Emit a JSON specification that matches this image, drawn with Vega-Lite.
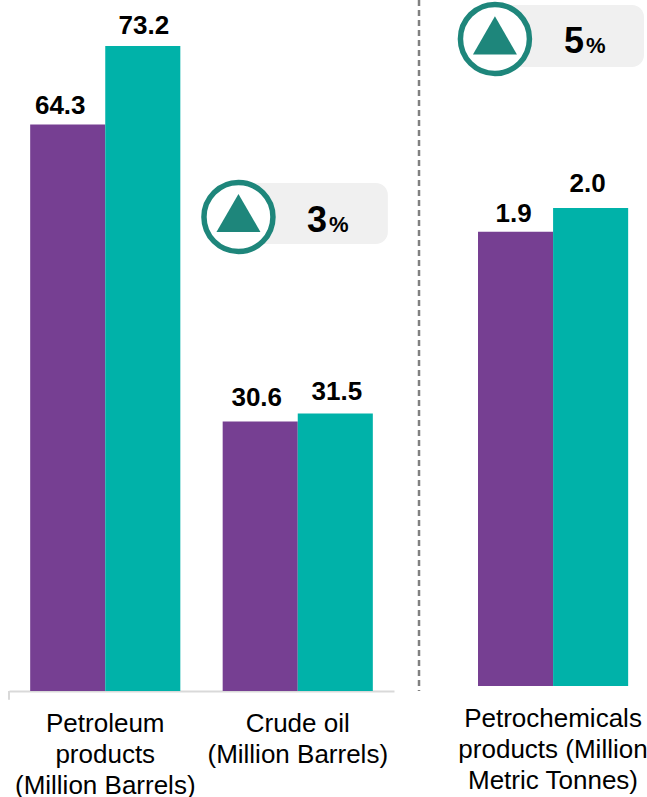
{
"$schema":"https://vega.github.io/schema/vega-lite/v6.json",
"padding":{"left":8,"top":-7,"right":0,"bottom":0},
"autosize":{"type":"pad"},
"background":"white",
"spacing":22,
"config":{"view":{"stroke":null},"text":{"font":"Liberation Sans"},"axis":{"labelFont":"Liberation Sans"}},
"datasets":{
"left":[
{"category":"Petroleum products (Million Barrels)","series":"Earlier period","value":64.3},
{"category":"Petroleum products (Million Barrels)","series":"Later period","value":73.2},
{"category":"Crude oil (Million Barrels)","series":"Earlier period","value":30.6},
{"category":"Crude oil (Million Barrels)","series":"Later period","value":31.5}],
"right":[
{"category":"Petrochemicals products (Million Metric Tonnes)","series":"Earlier period","value":1.9},
{"category":"Petrochemicals products (Million Metric Tonnes)","series":"Later period","value":2.0}]
},
"hconcat":[
{"width":385,"height":691,
"resolve":{"scale":{"x":"independent"}},
"layer":[
{"data":{"name":"left"},"mark":{"type":"bar"},
"encoding":{
"x":{"field":"category","type":"nominal","sort":null,"scale":{"paddingInner":0.22,"paddingOuter":0.11},"title":null,
"axis":{"labelAngle":0,"labelFontSize":26,"labelColor":"#000000","labelLineHeight":31,"labelPadding":19,"labelLimit":400,"labelOverlap":false,"ticks":false,"domainColor":"#d9d9d9","domainWidth":2,"labelBaseline":"top",
"labelExpr":"datum.label == 'Crude oil (Million Barrels)' ? ['Crude oil','(Million Barrels)'] : ['Petroleum','products','(Million Barrels)']"}},
"xOffset":{"field":"series","type":"nominal","scale":{"padding":0}},
"y":{"field":"value","type":"quantitative","scale":{"domain":[0,78.43],"nice":false},"axis":null},
"color":{"field":"series","type":"nominal","scale":{"domain":["Earlier period","Later period"],"range":["#763F92","#00B2A9"]},"legend":null}}},
{"data":{"name":"left"},"transform":[{"filter":"datum.value == 64.3"}],"mark":{"type":"text","fontSize":26,"fontWeight":"bold","color":"#000000","baseline":"alphabetic","dy":-10.5,"dx":-7.5},
"encoding":{"x":{"field":"category","type":"nominal","scale":{"domain":["Petroleum products (Million Barrels)","Crude oil (Million Barrels)"],"paddingInner":0.22,"paddingOuter":0.11},"axis":null},
"xOffset":{"field":"series","type":"nominal","scale":{"domain":["Earlier period","Later period"],"padding":0}},
"y":{"field":"value","type":"quantitative"},"text":{"field":"value","type":"quantitative","format":".1f"}}},
{"data":{"name":"left"},"transform":[{"filter":"datum.value == 30.6"}],"mark":{"type":"text","fontSize":26,"fontWeight":"bold","color":"#000000","baseline":"alphabetic","dy":-15,"dx":-3.5},
"encoding":{"x":{"field":"category","type":"nominal","scale":{"domain":["Petroleum products (Million Barrels)","Crude oil (Million Barrels)"],"paddingInner":0.22,"paddingOuter":0.11},"axis":null},
"xOffset":{"field":"series","type":"nominal","scale":{"domain":["Earlier period","Later period"],"padding":0}},
"y":{"field":"value","type":"quantitative"},"text":{"field":"value","type":"quantitative","format":".1f"}}},
{"data":{"name":"left"},"transform":[{"filter":"datum.value == 73.2"}],"mark":{"type":"text","fontSize":26,"fontWeight":"bold","color":"#000000","baseline":"alphabetic","dy":-12,"dx":1},
"encoding":{"x":{"field":"category","type":"nominal","scale":{"domain":["Petroleum products (Million Barrels)","Crude oil (Million Barrels)"],"paddingInner":0.22,"paddingOuter":0.11},"axis":null},
"xOffset":{"field":"series","type":"nominal","scale":{"domain":["Earlier period","Later period"],"padding":0}},
"y":{"field":"value","type":"quantitative"},"text":{"field":"value","type":"quantitative","format":".1f"}}},
{"data":{"name":"left"},"transform":[{"filter":"datum.value == 31.5"}],"mark":{"type":"text","fontSize":26,"fontWeight":"bold","color":"#000000","baseline":"alphabetic","dy":-13,"dx":1.5},
"encoding":{"x":{"field":"category","type":"nominal","scale":{"domain":["Petroleum products (Million Barrels)","Crude oil (Million Barrels)"],"paddingInner":0.22,"paddingOuter":0.11},"axis":null},
"xOffset":{"field":"series","type":"nominal","scale":{"domain":["Earlier period","Later period"],"padding":0}},
"y":{"field":"value","type":"quantitative"},"text":{"field":"value","type":"quantitative","format":".1f"}}},
{"data":{"values":[{"a":0,"b":0,"c":-1}]},"mark":{"type":"rule","color":"#d9d9d9","strokeWidth":2,"clip":false},
"encoding":{"x":{"field":"a","type":"quantitative","scale":{"domain":[0,100],"nice":false},"axis":null},"y":{"field":"b","type":"quantitative"},"y2":{"field":"c"}}},
{"data":{"values":[{"x1":61.6,"x2":98.4,"y1":50.74,"y2":57.66}]},"mark":{"type":"rect","color":"#F0F0F0","cornerRadius":12},
"encoding":{"x":{"field":"x1","type":"quantitative","scale":{"domain":[0,100]},"axis":null},"x2":{"field":"x2"},"y":{"field":"y1","type":"quantitative"},"y2":{"field":"y2"}}},
{"data":{"values":[{"x":59.6,"y":53.8}]},"mark":{"type":"point","shape":"circle","size":4761,"filled":true,"fill":"white","stroke":"#1E867B","strokeWidth":5.5,"opacity":1},
"encoding":{"x":{"field":"x","type":"quantitative","scale":{"domain":[0,100]},"axis":null},"y":{"field":"y","type":"quantitative"}}},
{"data":{"values":[{"x":59.6,"y":54.26}]},"mark":{"type":"point","shape":"triangle-up","size":1936,"filled":true,"color":"#1E867B","opacity":1},
"encoding":{"x":{"field":"x","type":"quantitative","scale":{"domain":[0,100]},"axis":null},"y":{"field":"y","type":"quantitative"}}},
{"data":{"values":[{"x":82.6,"y":52.1,"t":"3"}]},"mark":{"type":"text","fontSize":36,"fontWeight":"bold","color":"#000000","align":"right","baseline":"alphabetic"},
"encoding":{"x":{"field":"x","type":"quantitative","scale":{"domain":[0,100]},"axis":null},"y":{"field":"y","type":"quantitative"},"text":{"field":"t"}}},
{"data":{"values":[{"x":83.1,"y":52.1,"t":"%"}]},"mark":{"type":"text","fontSize":22,"fontWeight":"bold","color":"#000000","align":"left","baseline":"alphabetic"},
"encoding":{"x":{"field":"x","type":"quantitative","scale":{"domain":[0,100]},"axis":null},"y":{"field":"y","type":"quantitative"},"text":{"field":"t"}}}
]},
{"width":276,"height":691,
"resolve":{"scale":{"x":"independent"}},
"layer":[
{"data":{"name":"right"},"mark":{"type":"bar"},
"encoding":{
"x":{"field":"category","type":"nominal","scale":{"paddingInner":0,"paddingOuter":0.408},"title":null,
"axis":{"labelAngle":0,"labelFontSize":26,"labelColor":"#000000","labelLineHeight":31,"labelPadding":14,"labelLimit":400,"labelOverlap":false,"ticks":false,"domain":false,"labelBaseline":"top","labelOffset":-1,
"labelExpr":"['Petrochemicals','products (Million','Metric Tonnes)']"}},
"xOffset":{"field":"series","type":"nominal","scale":{"padding":0}},
"y":{"field":"value","type":"quantitative","scale":{"domain":[-0.0209,2.87],"nice":false},"axis":null},
"color":{"field":"series","type":"nominal","scale":{"domain":["Earlier period","Later period"],"range":["#763F92","#00B2A9"]},"legend":null}}},
{"data":{"name":"right"},"transform":[{"filter":"datum.series == 'Earlier period'"}],"mark":{"type":"text","fontSize":26,"fontWeight":"bold","color":"#000000","baseline":"alphabetic","dy":-10,"dx":-2},
"encoding":{"x":{"field":"category","type":"nominal","scale":{"paddingInner":0,"paddingOuter":0.408},"axis":null},
"xOffset":{"field":"series","type":"nominal","scale":{"domain":["Earlier period","Later period"],"padding":0}},
"y":{"field":"value","type":"quantitative"},"text":{"field":"value","type":"quantitative","format":".1f"}}},
{"data":{"name":"right"},"transform":[{"filter":"datum.series == 'Later period'"}],"mark":{"type":"text","fontSize":26,"fontWeight":"bold","color":"#000000","baseline":"alphabetic","dy":-16,"dx":-3},
"encoding":{"x":{"field":"category","type":"nominal","scale":{"paddingInner":0,"paddingOuter":0.408},"axis":null},
"xOffset":{"field":"series","type":"nominal","scale":{"domain":["Earlier period","Later period"],"padding":0}},
"y":{"field":"value","type":"quantitative"},"text":{"field":"value","type":"quantitative","format":".1f"}}},
{"data":{"values":[{"a":1.09,"b":2.87,"c":-0.0209}]},"mark":{"type":"rule","color":"#808080","strokeWidth":2.5,"strokeDash":[6,4],"clip":false},
"encoding":{"x":{"field":"a","type":"quantitative","scale":{"domain":[0,100]},"axis":null},"y":{"field":"b","type":"quantitative"},"y2":{"field":"c"}}},
{"data":{"values":[{"x1":23.6,"x2":82.6,"y1":2.59,"y2":2.849}]},"mark":{"type":"rect","color":"#F0F0F0","cornerRadius":12},
"encoding":{"x":{"field":"x1","type":"quantitative","scale":{"domain":[0,100]},"axis":null},"x2":{"field":"x2"},"y":{"field":"y1","type":"quantitative"},"y2":{"field":"y2"}}},
{"data":{"values":[{"x":28.6,"y":2.707}]},"mark":{"type":"point","shape":"circle","size":4761,"filled":true,"fill":"white","stroke":"#1E867B","strokeWidth":5.5,"opacity":1},
"encoding":{"x":{"field":"x","type":"quantitative","scale":{"domain":[0,100]},"axis":null},"y":{"field":"y","type":"quantitative"}}},
{"data":{"values":[{"x":28.6,"y":2.722}]},"mark":{"type":"point","shape":"triangle-up","size":1936,"filled":true,"color":"#1E867B","opacity":1},
"encoding":{"x":{"field":"x","type":"quantitative","scale":{"domain":[0,100]},"axis":null},"y":{"field":"y","type":"quantitative"}}},
{"data":{"values":[{"x":60.9,"y":2.649,"t":"5"}]},"mark":{"type":"text","fontSize":36,"fontWeight":"bold","color":"#000000","align":"right","baseline":"alphabetic"},
"encoding":{"x":{"field":"x","type":"quantitative","scale":{"domain":[0,100]},"axis":null},"y":{"field":"y","type":"quantitative"},"text":{"field":"t"}}},
{"data":{"values":[{"x":61.6,"y":2.649,"t":"%"}]},"mark":{"type":"text","fontSize":22,"fontWeight":"bold","color":"#000000","align":"left","baseline":"alphabetic"},
"encoding":{"x":{"field":"x","type":"quantitative","scale":{"domain":[0,100]},"axis":null},"y":{"field":"y","type":"quantitative"},"text":{"field":"t"}}}
]}
]
}
